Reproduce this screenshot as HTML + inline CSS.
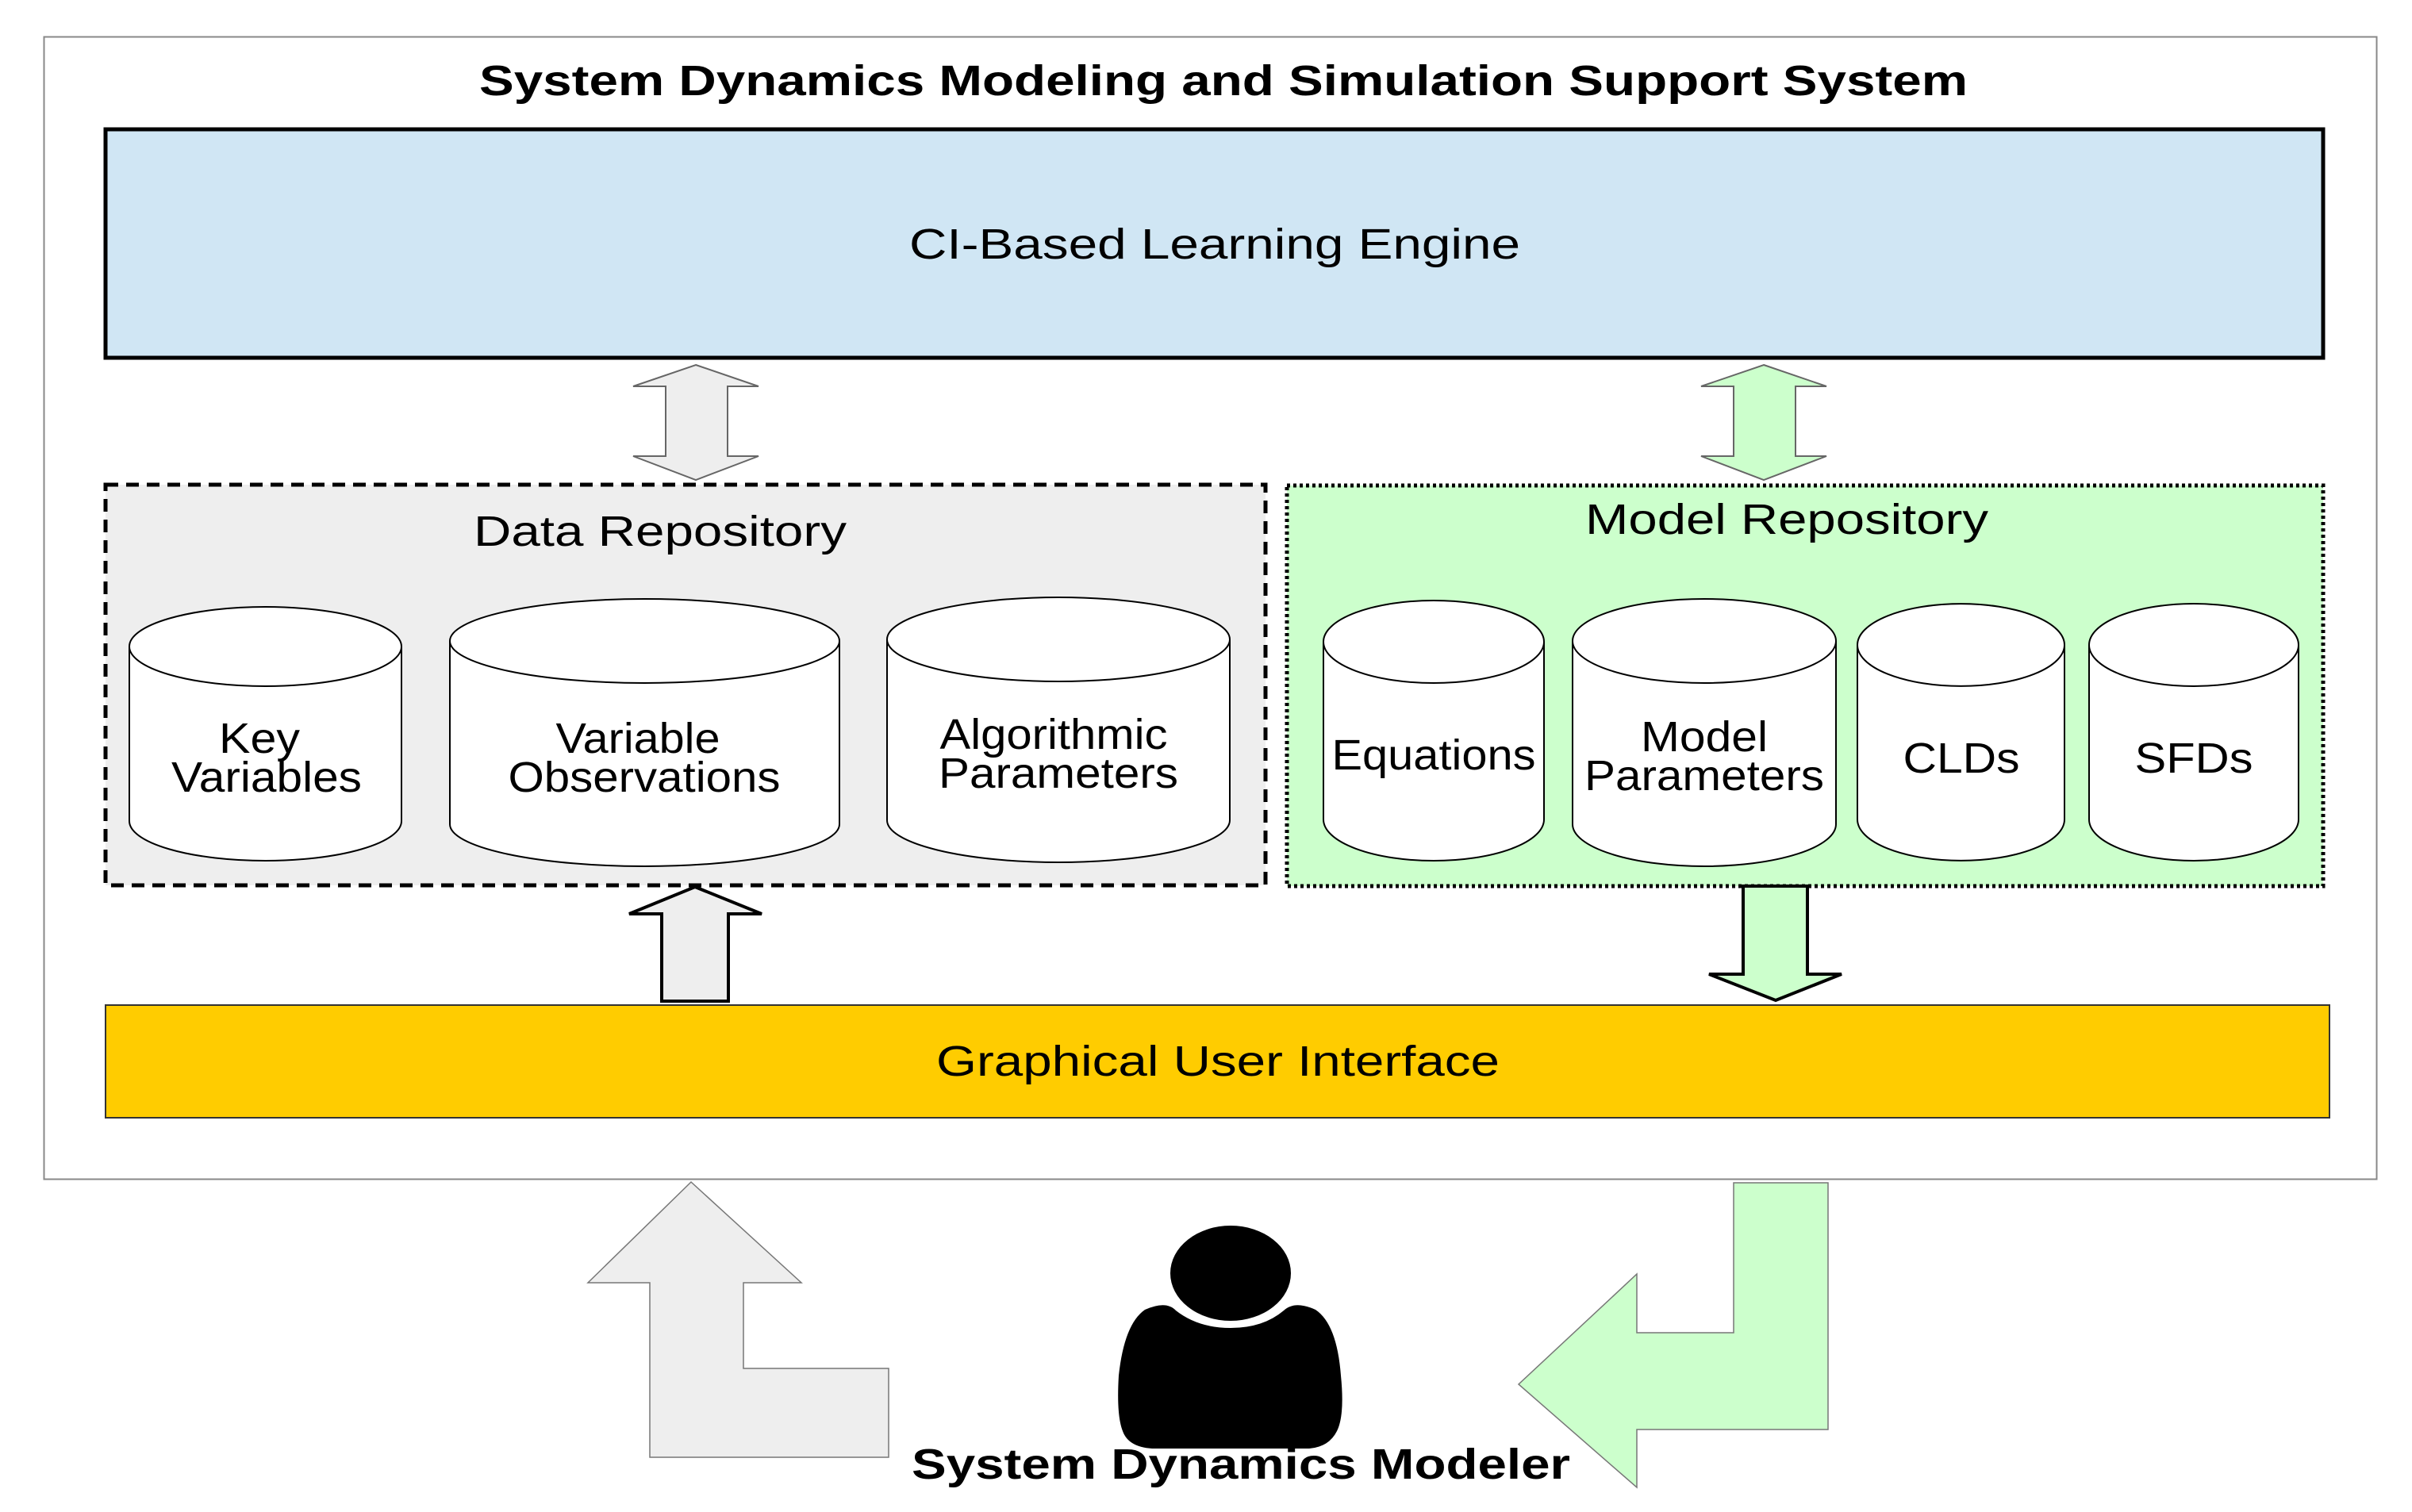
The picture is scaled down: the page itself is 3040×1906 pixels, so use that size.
<!DOCTYPE html>
<html><head><meta charset="utf-8"><style>html,body{margin:0;padding:0;background:#fff}svg{display:block}</style></head>
<body>
<svg width="3040" height="1906" viewBox="0 0 3040 1906" xmlns="http://www.w3.org/2000/svg" font-family="Liberation Sans, Arial, sans-serif">
<rect x="0" y="0" width="3040" height="1906" fill="#fff"/>
<rect x="55.5" y="46.5" width="2940" height="1440" fill="#fff" stroke="#888" stroke-width="2"/>
<text x="1542" y="120" font-size="54" font-weight="bold" text-anchor="middle" textLength="1876" lengthAdjust="spacingAndGlyphs">System Dynamics Modeling and Simulation Support System</text>

<rect x="133" y="163" width="2795" height="288" fill="#d0e6f4" stroke="#000" stroke-width="5"/>
<text x="1531" y="326" font-size="54" text-anchor="middle" textLength="770" lengthAdjust="spacingAndGlyphs">CI-Based Learning Engine</text>

<polygon points="877,460 956,487 917,487 917,575 956,575 877,605 798,575 839,575 839,487 798,487" fill="#eeeeee" stroke="#666" stroke-width="2"/>
<polygon points="2223,460 2302,487 2263,487 2263,575 2302,575 2223,605 2144,575 2185,575 2185,487 2144,487" fill="#ccffcc" stroke="#666" stroke-width="2"/>

<rect x="133" y="611" width="1462" height="505" fill="#eeeeee" stroke="#000" stroke-width="5" stroke-dasharray="16,10"/>
<text x="832" y="688" font-size="54" text-anchor="middle" textLength="470" lengthAdjust="spacingAndGlyphs">Data Repository</text>

<rect x="1622" y="612" width="1306" height="505" fill="#ccffcc" stroke="#000" stroke-width="5" stroke-dasharray="4,4"/>
<text x="2252" y="673" font-size="54" text-anchor="middle" textLength="508" lengthAdjust="spacingAndGlyphs">Model Repository</text>

<g fill="#fff" stroke="#000" stroke-width="2">
<path d="M163,815 A171.5,50 0 0 1 506,815 L506,1035 A171.5,50 0 0 1 163,1035 Z"/><path d="M163,815 A171.5,50 0 0 0 506,815" fill="none"/>
<path d="M567,808 A245.5,53 0 0 1 1058,808 L1058,1039 A245.5,53 0 0 1 567,1039 Z"/><path d="M567,808 A245.5,53 0 0 0 1058,808" fill="none"/>
<path d="M1118,806 A216,53 0 0 1 1550,806 L1550,1034 A216,53 0 0 1 1118,1034 Z"/><path d="M1118,806 A216,53 0 0 0 1550,806" fill="none"/>
<path d="M1668,809 A139,52 0 0 1 1946,809 L1946,1033 A139,52 0 0 1 1668,1033 Z"/><path d="M1668,809 A139,52 0 0 0 1946,809" fill="none"/>
<path d="M1982,808 A166,53 0 0 1 2314,808 L2314,1039 A166,53 0 0 1 1982,1039 Z"/><path d="M1982,808 A166,53 0 0 0 2314,808" fill="none"/>
<path d="M2341,813 A130.5,52 0 0 1 2602,813 L2602,1033 A130.5,52 0 0 1 2341,1033 Z"/><path d="M2341,813 A130.5,52 0 0 0 2602,813" fill="none"/>
<path d="M2633,813 A132,52 0 0 1 2897,813 L2897,1033 A132,52 0 0 1 2633,1033 Z"/><path d="M2633,813 A132,52 0 0 0 2897,813" fill="none"/>
</g>
<g font-size="54" text-anchor="middle" lengthAdjust="spacingAndGlyphs">
<text x="327" y="949" textLength="102" lengthAdjust="spacingAndGlyphs">Key</text>
<text x="336" y="998" textLength="240" lengthAdjust="spacingAndGlyphs">Variables</text>
<text x="804" y="949" textLength="207" lengthAdjust="spacingAndGlyphs">Variable</text>
<text x="812" y="998" textLength="343" lengthAdjust="spacingAndGlyphs">Observations</text>
<text x="1328" y="944" textLength="287" lengthAdjust="spacingAndGlyphs">Algorithmic</text>
<text x="1334" y="993" textLength="302" lengthAdjust="spacingAndGlyphs">Parameters</text>
<text x="1807" y="970" textLength="257" lengthAdjust="spacingAndGlyphs">Equations</text>
<text x="2148" y="947" textLength="160" lengthAdjust="spacingAndGlyphs">Model</text>
<text x="2148" y="996" textLength="302" lengthAdjust="spacingAndGlyphs">Parameters</text>
<text x="2472" y="974" textLength="147" lengthAdjust="spacingAndGlyphs">CLDs</text>
<text x="2765" y="974" textLength="149" lengthAdjust="spacingAndGlyphs">SFDs</text>
</g>

<polygon points="876,1118 960,1152 918,1152 918,1262 834,1262 834,1152 793,1152" fill="#eeeeee" stroke="#000" stroke-width="4"/>
<polygon points="2197,1117 2278,1117 2278,1228 2321,1228 2238,1261 2154,1228 2197,1228" fill="#ccffcc" stroke="#000" stroke-width="4"/>

<rect x="133" y="1267" width="2803" height="142" fill="#ffcc00" stroke="#333" stroke-width="2"/>
<text x="1535" y="1356" font-size="54" text-anchor="middle" textLength="710" lengthAdjust="spacingAndGlyphs">Graphical User Interface</text>

<polygon points="871,1490 1010,1617 937,1617 937,1725 1120,1725 1120,1837 819,1837 819,1617 741,1617" fill="#eeeeee" stroke="#777" stroke-width="1.5"/>
<polygon points="2185,1491 2304,1491 2304,1802 2063,1802 2063,1875 1914,1745 2063,1606 2063,1680 2185,1680" fill="#ccffcc" stroke="#777" stroke-width="1.5"/>

<ellipse cx="1551" cy="1605" rx="76" ry="60" fill="#000"/>
<path d="M1443,1651 Q1470,1639 1482,1652 Q1510,1674 1551,1674 Q1592,1674 1618,1652 Q1632,1639 1658,1651 Q1685,1669 1690,1734 Q1695,1784 1685,1804 Q1675,1824 1650,1826 L1452,1826 Q1422,1824 1415,1804 Q1407,1784 1410,1734 Q1417,1669 1443,1651 Z" fill="#000"/>

<text x="1564" y="1864" font-size="54" font-weight="bold" text-anchor="middle" textLength="830" lengthAdjust="spacingAndGlyphs">System Dynamics Modeler</text>
</svg>
</body></html>
